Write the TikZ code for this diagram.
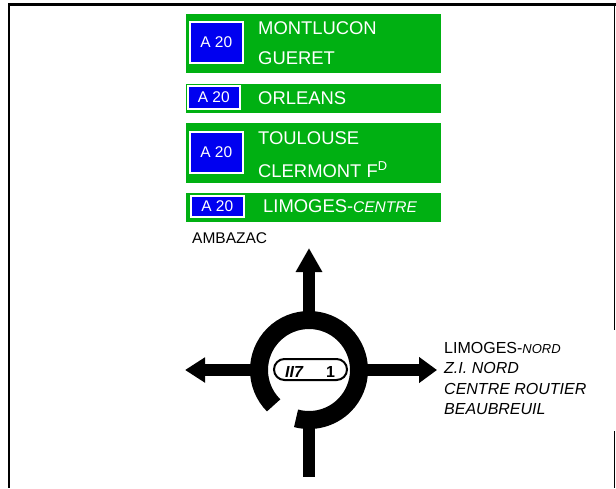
\documentclass[tikz,border=0pt]{standalone}
\usepackage{fontspec}
\setmainfont{Liberation Sans}
\usetikzlibrary{arrows.meta,shapes.misc}
\definecolor{signgreen}{RGB}{0,176,18}
\definecolor{signblue}{RGB}{0,0,240}
\begin{document}
\begin{tikzpicture}[x=1pt,y=-1pt,
  panel/.style={fill=signgreen,draw=none,inner sep=0,anchor=north west},
  routebox/.style={fill=signblue,draw=white,line width=1.5pt,text=white,inner sep=0,anchor=north west,font=\fontsize{15.5}{18}\selectfont},
  signtext/.style={text=white,anchor=base west,inner sep=0,font=\fontsize{18.4}{21}\selectfont},
  plaintext/.style={text=black,anchor=base west,inner sep=0,font=\fontsize{16}{18}\selectfont},
  road/.style={line width=12pt,black},
  framerule/.style={line width=2pt,black}]
\useasboundingbox (0,0) rectangle (616,488);
% frame
\draw[line width=2.4pt] (8,4.5) -- (616,4.5);
\draw[framerule] (9,4) -- (9,488);
\draw[line width=1.6pt] (614.5,4) -- (614.5,330);
\draw[line width=1.6pt] (614.5,431) -- (614.5,488);
% sign 1
\node[panel,minimum width=255pt,minimum height=59pt] (g1) at (186,14) {};
\node[routebox,minimum width=53pt,minimum height=41pt] (b1) at (189,21) {A 20};
\node[signtext] (t1a) at (258,34) {MONTLUCON};
\node[signtext] (t1b) at (258,64) {GUERET};
% sign 2
\node[panel,minimum width=255pt,minimum height=29pt] (g2) at (186,84) {};
\node[routebox,minimum width=52pt,minimum height=23pt] (b2) at (187,85) {A 20};
\node[signtext] (t2) at (258,104) {ORLEANS};
% sign 3
\node[panel,minimum width=255pt,minimum height=60pt] (g3) at (186,123) {};
\node[routebox,minimum width=53pt,minimum height=41pt] (b3) at (189,131) {A 20};
\node[signtext] (t3a) at (258,144) {TOULOUSE};
\node[signtext] (t3b) at (258,177) {CLERMONT F\textsuperscript{D}};
% sign 4
\node[panel,minimum width=255pt,minimum height=29pt] (g4) at (186,193) {};
\node[routebox,minimum width=53pt,minimum height=21pt] (b4) at (190,195) {A 20};
\node[signtext] (t4) at (263,212) {LIMOGES-\textit{\fontsize{15.5}{18}\selectfont CENTRE}};
% ambazac
\node[plaintext,font=\fontsize{15.5}{18}\selectfont] (amb) at (192,243) {AMBAZAC};
% right destinations
\node[plaintext] (r1) at (444,353) {LIMOGES-\textit{\fontsize{13}{15}\selectfont NORD}};
\node[plaintext] (r2) at (444,373.5) {\textit{Z.I. NORD}};
\node[plaintext] (r3) at (444,394) {\textit{CENTRE ROUTIER}};
\node[plaintext] (r4) at (444,414.5) {\textit{BEAUBREUIL}};
% roundabout
\coordinate (c) at (309,370);
\coordinate (ntop) at (309,312);
\coordinate (ntip) at (309,248);
\coordinate (wside) at (251,370);
\coordinate (wtip) at (185,370);
\coordinate (eside) at (367,370);
\coordinate (etip) at (437,370);
\coordinate (sside) at (309,420);
\coordinate (send) at (309,477);
\draw[line width=18pt] (c) ++(135:50) arc[start angle=135,end angle=465,radius=50];
\draw[road,-{Triangle[length=24pt,width=25pt]}] (ntop) -- (ntip);
\draw[road,-{Triangle[length=20pt,width=24pt]}] (wside) -- (wtip);
\draw[road,-{Triangle[length=18pt,width=25pt]}] (eside) -- (etip);
\draw[road] (sside) -- (send);
\node[rounded rectangle,draw=black,line width=2pt,fill=white,minimum width=73pt,minimum height=21pt,inner sep=0] (pill) at (310.5,369.5) {};
\node[anchor=base west,inner sep=0,font=\fontsize{16}{18}\selectfont\bfseries\itshape] (pa) at (285,377) {II7};
\node[anchor=base west,inner sep=0,font=\fontsize{16}{18}\selectfont\bfseries] (pb) at (326,377) {1};
\end{tikzpicture}
\end{document}
